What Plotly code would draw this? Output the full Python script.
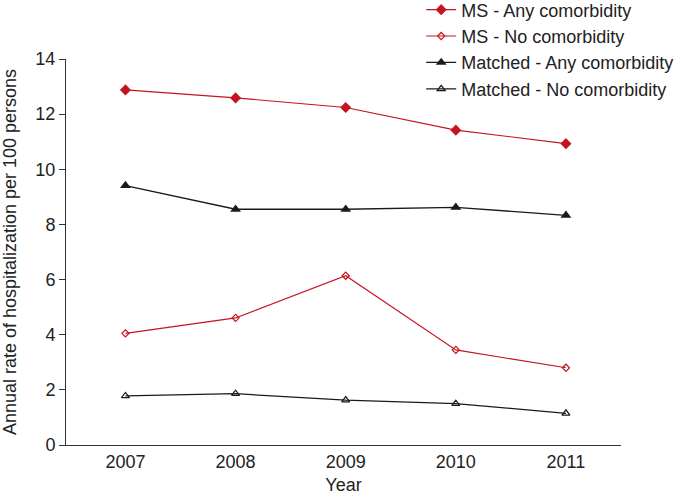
import plotly.graph_objects as go

years = [2007, 2008, 2009, 2010, 2011]
ms_any = [12.88, 12.59, 12.24, 11.42, 10.93]
ms_none = [4.05, 4.61, 6.14, 3.45, 2.80]
matched_any = [9.41, 8.55, 8.55, 8.62, 8.33]
matched_none = [1.78, 1.86, 1.63, 1.50, 1.15]

RED = "#c3141f"
BLACK = "#1a1a1a"

fig = go.Figure()
fig.add_trace(go.Scatter(x=years, y=ms_any, name="MS - Any comorbidity", mode="lines+markers",
                         line=dict(color=RED, width=1.1),
                         marker=dict(symbol="diamond", size=8.5, color=RED)))
fig.add_trace(go.Scatter(x=years, y=ms_none, name="MS - No comorbidity", mode="lines+markers",
                         line=dict(color=RED, width=1.1),
                         marker=dict(symbol="diamond-open", size=5.5, color=RED, line=dict(width=1.2))))
fig.add_trace(go.Scatter(x=years, y=matched_any, name="Matched - Any comorbidity", mode="lines+markers",
                         line=dict(color=BLACK, width=1.3),
                         marker=dict(symbol="triangle-up", size=9.5, color=BLACK)))
fig.add_trace(go.Scatter(x=years, y=matched_none, name="Matched - No comorbidity", mode="lines+markers",
                         line=dict(color=BLACK, width=1.3),
                         marker=dict(symbol="triangle-up-open", size=7, color=BLACK, line=dict(width=1.2))))

fig.update_layout(
    width=685, height=495,
    margin=dict(l=66, r=64, t=59, b=50, autoexpand=False),
    paper_bgcolor="white", plot_bgcolor="white",
    font=dict(family="Liberation Sans, Arial, sans-serif", size=18, color="#222"),
    showlegend=True,
    legend=dict(x=0.64, y=1.175, xanchor="left", yanchor="top", font=dict(size=18),
                tracegroupgap=0, itemsizing="trace", bgcolor="rgba(0,0,0,0)"),
    xaxis=dict(range=[2006.46, 2011.5], tickvals=years, ticktext=[str(y) for y in years],
               showline=True, linecolor="#333", linewidth=1, ticks="", showgrid=False,
               zeroline=False, tickfont=dict(size=18),
               title=dict(text="Year", font=dict(size=18), standoff=13)),
    yaxis=dict(range=[0, 14], dtick=2, showline=True, linecolor="#333", linewidth=1,
               ticks="outside", ticklen=6, tickcolor="#333", showgrid=False, zeroline=False,
               tickfont=dict(size=18),
               title=dict(text="Annual rate of hospitalization per 100 persons", font=dict(size=18), standoff=15)),
)

fig.write_html("out.html", config={"displayModeBar": False},
               post_script="document.body.style.margin='0';")
